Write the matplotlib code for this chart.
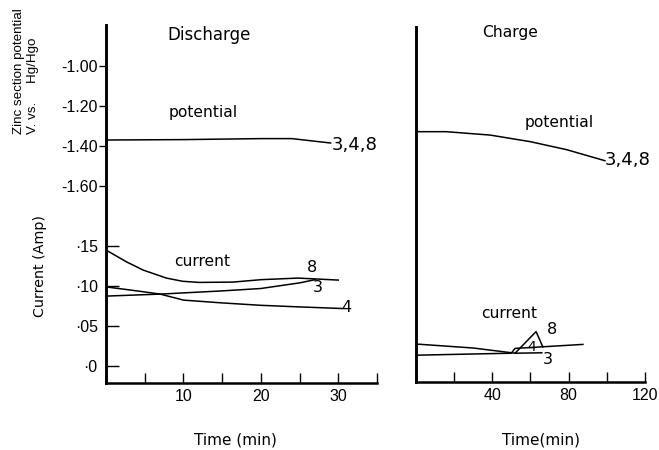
import matplotlib
matplotlib.use("Agg")
import matplotlib.pyplot as plt
from matplotlib import font_manager as fm

# ---------------- data ----------------
# Discharge: zinc section potential (V vs Hg/HgO), cells 3,4,8 coincide
dis_pot_t = [0, 10, 20, 24, 29]
dis_pot_v = [-1.372, -1.370, -1.365, -1.365, -1.387]

# Discharge currents (A)
dis_t8 = [0, 2.7, 4.8, 7.8, 9.9, 12, 16.4, 20, 24.8, 30]
dis_c8 = [0.145, 0.130, 0.120, 0.110, 0.106, 0.1046, 0.105, 0.108, 0.110, 0.1075]
dis_t3 = [0, 7, 15, 20, 25, 27]
dis_c3 = [0.0875, 0.090, 0.094, 0.097, 0.104, 0.108]
dis_t4 = [0, 4, 7, 10, 15, 20, 25, 30.5]
dis_c4 = [0.099, 0.094, 0.090, 0.0825, 0.079, 0.076, 0.074, 0.072]

# Charge: potential
chg_pot_t = [0, 16, 39, 60, 79, 99]
chg_pot_v = [-1.33, -1.33, -1.347, -1.38, -1.42, -1.475]

# Charge currents (A)
chg_t8 = [0, 30, 52, 63, 66.5]
chg_c8 = [0.0275, 0.0225, 0.016, 0.043, 0.024]
chg_t4 = [0, 30, 50, 52, 70, 87.5]
chg_c4 = [0.0135, 0.015, 0.016, 0.022, 0.0245, 0.027]
chg_t3 = [52, 66]
chg_c3 = [0.016, 0.0165]

pot_ticks = [-1.00, -1.20, -1.40, -1.60]
pot_labels = ["-1.00", "-1.20", "-1.40", "-1.60"]
cur_ticks = [0.15, 0.10, 0.05, 0.0]
cur_labels = ["\u00b715", "\u00b710", "\u00b705", "\u00b70"]
dis_xticks = [5, 10, 15, 20, 25, 30, 35]
dis_xlabels = ["", "10", "", "20", "", "30", ""]
chg_xticks = [20, 40, 60, 80, 100, 120]
chg_xlabels = ["", "40", "", "80", "", "120"]

# ---------------- style ----------------
names = {f.name for f in fm.fontManager.ttflist}
if "Liberation Sans Narrow" in names:
    NARROW = "Liberation Sans Narrow"
elif "Liberation Sans" in names:
    NARROW = "Liberation Sans"
else:
    NARROW = "DejaVu Sans"
plt.rcParams["font.family"] = ["DejaVu Sans"]

W, H = 659, 450
fig = plt.figure(figsize=(W / 100, H / 100), dpi=100)
fig.patch.set_facecolor("white")


def fx(px):
    return px / W


def fy(py):
    return 1 - py / H


def cur_to_pot(c):
    # mapping between the two stacked scales on the shared left axis
    return (c - 0.3754) / 0.25 - 1.0


LW = 1.1
K = "black"

# ---------- Discharge panel ----------
axL = fig.add_axes([fx(106), fy(383), fx(377) - fx(106), fy(25) - fy(383)])
axL.set_xlim(0, 35)
axL.set_ylim(-0.021, 0.426)
axL.plot(dis_t8, dis_c8, color=K, lw=LW)
axL.plot(dis_t3, dis_c3, color=K, lw=LW)
axL.plot(dis_t4, dis_c4, color=K, lw=LW)

axLp = axL.twinx()
axLp.set_ylim(cur_to_pot(-0.021), cur_to_pot(0.426))
axLp.plot(dis_pot_t, dis_pot_v, color=K, lw=LW)

# ---------- Charge panel ----------
axR = fig.add_axes([fx(415.7), fy(382), fx(645) - fx(415.7), fy(27) - fy(382)])
axR.set_xlim(0, 120)
ylo, yhi = (366 - 382) / 800, (366 - 27) / 800
axR.set_ylim(ylo, yhi)
axR.plot(chg_t8, chg_c8, color=K, lw=LW)
axR.plot(chg_t4, chg_c4, color=K, lw=LW)
axR.plot(chg_t3, chg_c3, color=K, lw=LW)

axRp = axR.twinx()
axRp.set_ylim(cur_to_pot(ylo), cur_to_pot(yhi))
axRp.plot(chg_pot_t, chg_pot_v, color=K, lw=LW)

for ax in (axL, axR):
    ax.set_facecolor("none")
    for s in ("top", "right"):
        ax.spines[s].set_visible(False)
    ax.spines["left"].set_linewidth(2.1)
    ax.spines["bottom"].set_linewidth(1.8)
for ax in (axLp, axRp):
    for s in ax.spines.values():
        s.set_visible(False)

# ticks
axL.set_xticks(dis_xticks)
axL.set_xticklabels(dis_xlabels, fontfamily=NARROW, fontsize=11.5)
axR.set_xticks(chg_xticks)
axR.set_xticklabels(chg_xlabels, fontfamily=NARROW, fontsize=11.5)
for ax in (axL, axR):
    ax.tick_params(axis="x", direction="in", length=7, width=1.0, pad=4)

axL.set_yticks(cur_ticks)
axL.set_yticklabels(cur_labels, fontfamily=NARROW, fontsize=11.5)
axL.tick_params(axis="y", direction="in", length=9, width=1.0, pad=6)
axR.set_yticks([])

axLp.set_yticks(pot_ticks)
axLp.set_yticklabels(pot_labels, fontfamily=NARROW, fontsize=11.5)
axLp.yaxis.set_ticks_position("left")
axLp.tick_params(axis="y", direction="out", length=5, width=1.0, pad=1)
axRp.set_yticks([])

# ---------- texts ----------
def t(px, py, s, **kw):
    kw.setdefault("ha", "center")
    kw.setdefault("va", "center")
    fig.text(fx(px), fy(py), s, color=K, **kw)


t(209, 35, "Discharge", fontsize=12)
t(510, 33, "Charge", fontsize=11.2)
t(203, 113, "potential", fontsize=11.2)
t(559, 123, "potential", fontsize=11.2)
t(202, 262, "current", fontsize=11.2)
t(509, 313, "current", fontsize=11.2)
t(332, 145, "3,4,8", fontsize=13, ha="left")
t(605, 160, "3,4,8", fontsize=13, ha="left")
t(312, 268, "8", fontsize=11.5)
t(318, 287, "3", fontsize=11.5)
t(346, 308, "4", fontsize=11.5)
t(552, 329, "8", fontsize=11.5)
t(532, 347, "4", fontsize=10)
t(548, 360, "3", fontsize=11.5)
t(235, 440, "Time (min)", fontsize=11)
t(541, 440, "Time(min)", fontsize=11)

t(19, 134, "Zinc section potential", fontsize=9.6, rotation=90, va="bottom",
  fontfamily=NARROW)
t(33, 134, "V. vs.     Hg/Hgo", fontsize=9.6, rotation=90, va="bottom",
  fontfamily=NARROW)
t(40, 266, "Current (Amp)", fontsize=10.3, rotation=90)

fig.savefig("out.png", dpi=100, facecolor="white")
